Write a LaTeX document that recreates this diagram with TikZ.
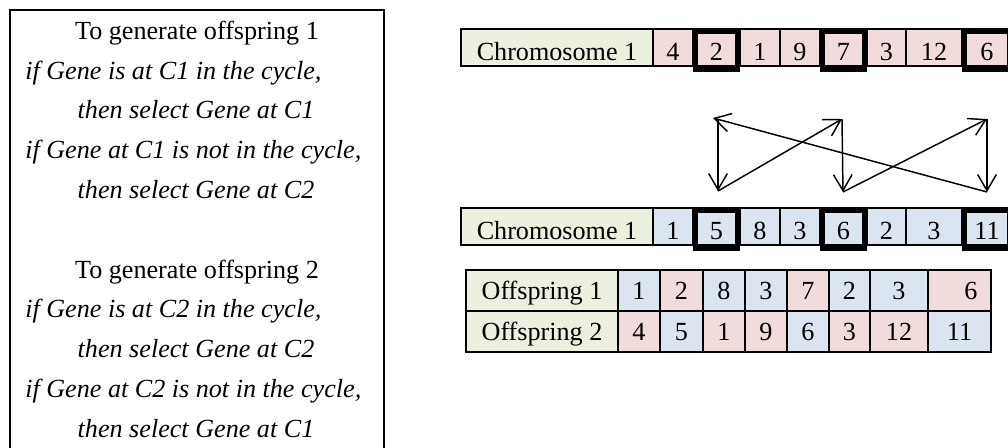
\documentclass[tikz,border=0pt]{standalone}
\usepackage{fontspec}
\setmainfont{Liberation Serif}
\usetikzlibrary{arrows.meta}
\definecolor{labelfill}{HTML}{EBF1DE}
\definecolor{pinkfill}{HTML}{F2DCDB}
\definecolor{bluefill}{HTML}{DBE5F1}
\begin{document}
\begin{tikzpicture}[x=0.75pt,y=-0.75pt]
\tikzset{headline/.style={anchor=base, inner sep=0pt, font=\fontsize{19.6}{24}\selectfont},
  ifline/.style={anchor=base west, inner sep=0pt, font=\fontsize{19.6}{24}\selectfont\itshape},
  thenline/.style={anchor=base, inner sep=0pt, font=\fontsize{19.6}{24}\selectfont\itshape},
  cell/.style={draw, line width=1.3pt, inner sep=0pt, outer sep=0pt, anchor=north west, font=\fontsize{19.6}{24}\selectfont},
  chrow/.style={text height=23.25pt, text depth=4.5pt},
  offrow/.style={text height=21.75pt, text depth=9pt},
  cw/.style={minimum width=#1*0.75pt},
  sel/.style={line width=3.75pt},
  cyc/.style={line width=1.1pt, -{Straight Barb[length=12pt,width=14pt]}}}
\useasboundingbox (0,0) rectangle (1008,447);
\clip (0,0) rectangle (1008,447);
\draw[line width=1.5pt] (10,10) rectangle (384,480);
\node[headline] (h1) at (197,39) {To generate offspring 1};
\node[ifline] (r1) at (25,79) {if Gene is at C1 in the cycle,};
\node[thenline] (s1) at (196,118) {then select Gene at C1};
\node[ifline] (r2) at (25,158) {if Gene at C1 is not in the cycle,};
\node[thenline] (s2) at (196,198) {then select Gene at C2};
\node[headline] (h2) at (197,278) {To generate offspring 2};
\node[ifline] (r3) at (25,317) {if Gene is at C2 in the cycle,};
\node[thenline] (s3) at (196,357) {then select Gene at C2};
\node[ifline] (r4) at (25,397) {if Gene at C2 is not in the cycle,};
\node[thenline] (s4) at (196,437) {then select Gene at C1};

\node[cell, chrow, cw=192, fill=labelfill] (p1) at (461,29) {Chromosome 1};
\node[cell, chrow, cw=40, fill=pinkfill] (p1g1) at (p1.north east) {4};
\node[cell, chrow, cw=47, fill=pinkfill] (p1g2) at (p1g1.north east) {2};
\node[cell, chrow, cw=40, fill=pinkfill] (p1g3) at (p1g2.north east) {1};
\node[cell, chrow, cw=40, fill=pinkfill] (p1g4) at (p1g3.north east) {9};
\node[cell, chrow, cw=47, fill=pinkfill] (p1g5) at (p1g4.north east) {7};
\node[cell, chrow, cw=39, fill=pinkfill] (p1g6) at (p1g5.north east) {3};
\node[cell, chrow, cw=56, fill=pinkfill] (p1g7) at (p1g6.north east) {12};
\node[cell, chrow, cw=50, fill=pinkfill] (p1g8) at (p1g7.north east) {6};
\draw[sel] ([shift={(2.5,2.5)}]p1g2.north west) rectangle ([shift={(-2.5,3)}]p1g2.south east);
\draw[sel] ([shift={(2.5,2.5)}]p1g5.north west) rectangle ([shift={(-2.5,3)}]p1g5.south east);
\draw[sel] ([shift={(2.5,2.5)}]p1g8.north west) rectangle ([shift={(-2.5,3)}]p1g8.south east);

\node[cell, chrow, cw=192, fill=labelfill] (p2) at (461,208) {Chromosome 1};
\node[cell, chrow, cw=40, fill=bluefill] (p2g1) at (p2.north east) {1};
\node[cell, chrow, cw=47, fill=bluefill] (p2g2) at (p2g1.north east) {5};
\node[cell, chrow, cw=40, fill=bluefill] (p2g3) at (p2g2.north east) {8};
\node[cell, chrow, cw=40, fill=bluefill] (p2g4) at (p2g3.north east) {3};
\node[cell, chrow, cw=47, fill=bluefill] (p2g5) at (p2g4.north east) {6};
\node[cell, chrow, cw=39, fill=bluefill] (p2g6) at (p2g5.north east) {2};
\node[cell, chrow, cw=56, fill=bluefill] (p2g7) at (p2g6.north east) {3};
\node[cell, chrow, cw=50, fill=bluefill] (p2g8) at (p2g7.north east) {11};
\draw[sel] ([shift={(2.5,2.5)}]p2g2.north west) rectangle ([shift={(-2.5,3)}]p2g2.south east);
\draw[sel] ([shift={(2.5,2.5)}]p2g5.north west) rectangle ([shift={(-2.5,3)}]p2g5.south east);
\draw[sel] ([shift={(2.5,2.5)}]p2g8.north west) rectangle ([shift={(-2.5,3)}]p2g8.south east);

\coordinate (a1) at (718,119);
\coordinate (a2) at (718,191);
\coordinate (b1) at (842,119);
\coordinate (b2) at (843,192);
\coordinate (c1) at (987,119);
\coordinate (c2) at (987,192);
\coordinate (lt) at (713,118);
\draw[cyc] (a1) -- (a2);
\draw[cyc] (a2) -- (b1);
\draw[cyc] (b1) -- (b2);
\draw[cyc] (b2) -- (c1);
\draw[cyc] (c1) -- (c2);
\draw[cyc] (c2) -- (lt);

\node[cell, offrow, cw=152, fill=labelfill] (o1) at (466,270) {Offspring 1};
\node[cell, offrow, cw=42, fill=bluefill] (o1g1) at (o1.north east) {1};
\node[cell, offrow, cw=43, fill=pinkfill] (o1g2) at (o1g1.north east) {2};
\node[cell, offrow, cw=42, fill=bluefill] (o1g3) at (o1g2.north east) {8};
\node[cell, offrow, cw=42, fill=bluefill] (o1g4) at (o1g3.north east) {3};
\node[cell, offrow, cw=42, fill=pinkfill] (o1g5) at (o1g4.north east) {7};
\node[cell, offrow, cw=41, fill=bluefill] (o1g6) at (o1g5.north east) {2};
\node[cell, offrow, cw=58, fill=bluefill] (o1g7) at (o1g6.north east) {3};
\node[cell, offrow, cw=63, fill=pinkfill] (o1g8) at (o1g7.north east) {\hspace*{17pt}6};
\node[cell, offrow, cw=152, fill=labelfill] (o2) at (o1.south west) {Offspring 2};
\node[cell, offrow, cw=42, fill=pinkfill] (o2g1) at (o2.north east) {4};
\node[cell, offrow, cw=43, fill=bluefill] (o2g2) at (o2g1.north east) {5};
\node[cell, offrow, cw=42, fill=pinkfill] (o2g3) at (o2g2.north east) {1};
\node[cell, offrow, cw=42, fill=pinkfill] (o2g4) at (o2g3.north east) {9};
\node[cell, offrow, cw=42, fill=bluefill] (o2g5) at (o2g4.north east) {6};
\node[cell, offrow, cw=41, fill=pinkfill] (o2g6) at (o2g5.north east) {3};
\node[cell, offrow, cw=58, fill=pinkfill] (o2g7) at (o2g6.north east) {12};
\node[cell, offrow, cw=63, fill=bluefill] (o2g8) at (o2g7.north east) {11};
\end{tikzpicture}
\end{document}
